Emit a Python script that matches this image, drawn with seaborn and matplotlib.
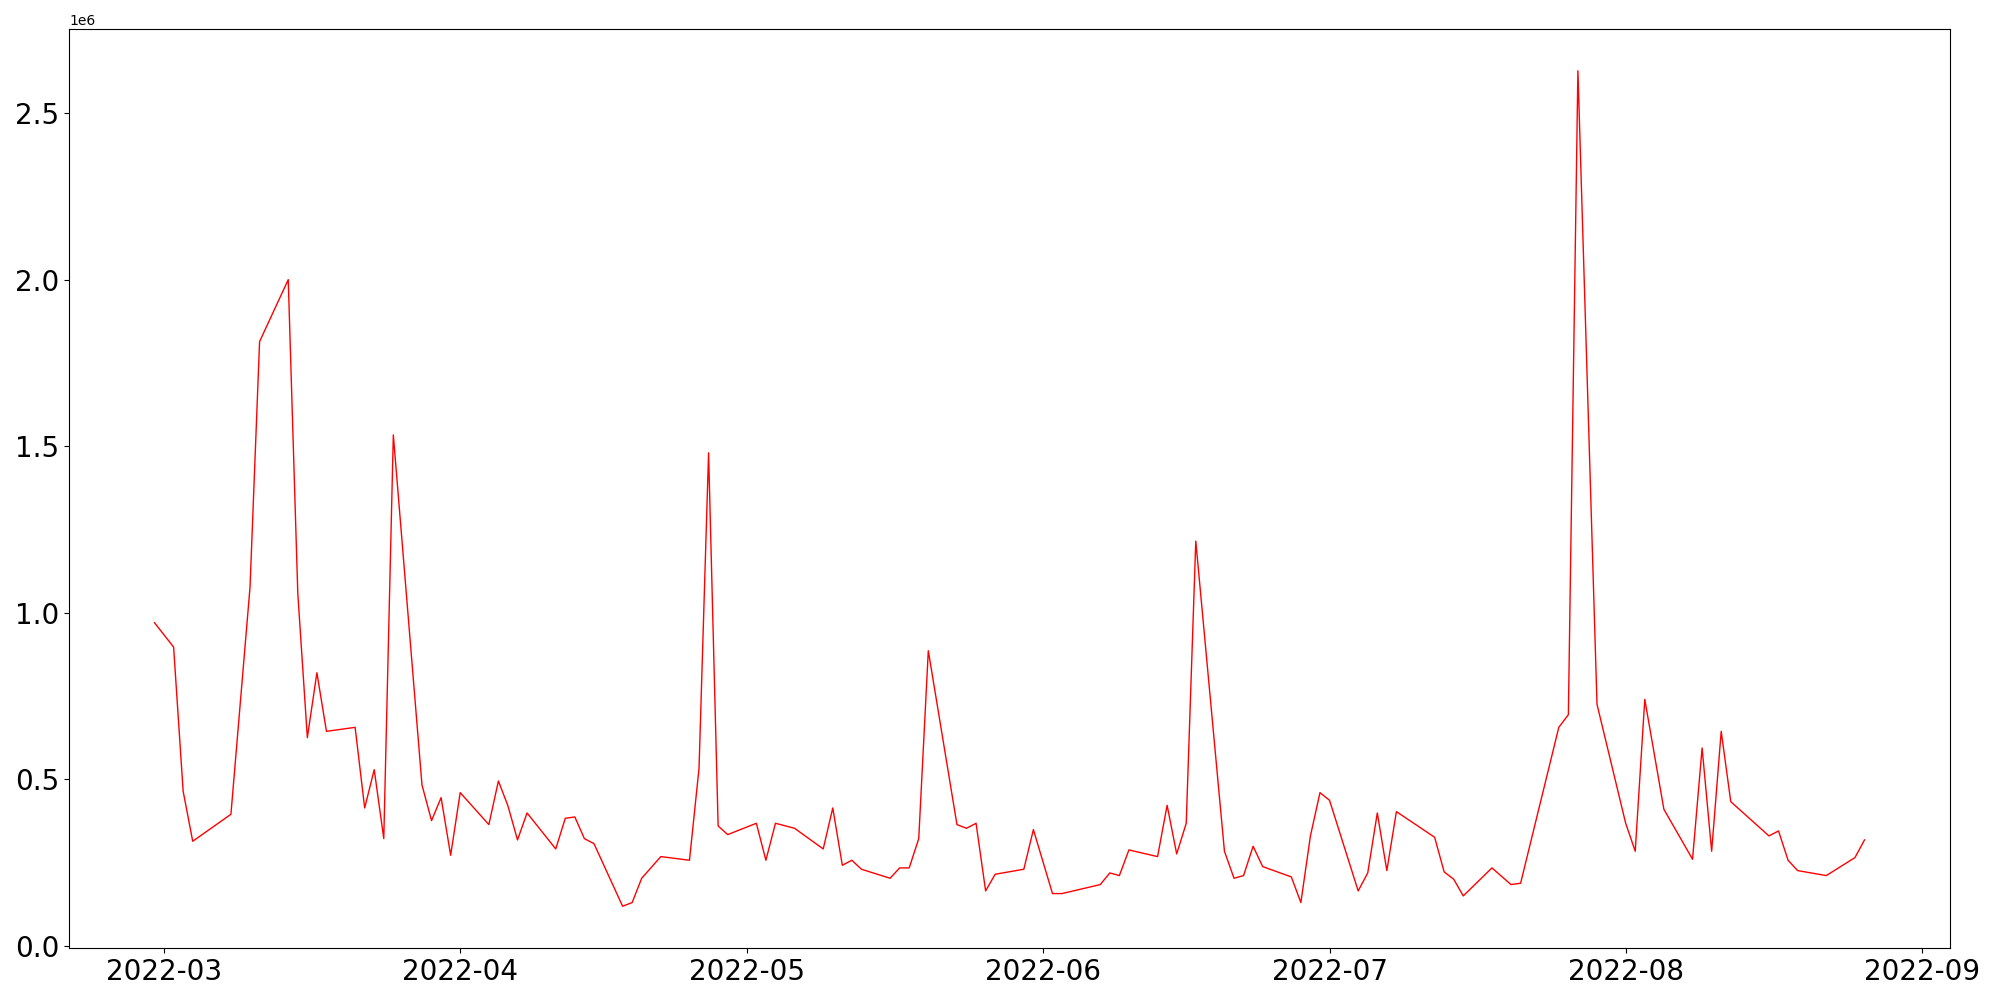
import pandas as pd
import matplotlib
matplotlib.use("Agg")
import matplotlib.pyplot as plt
import seaborn as sns

# daily values (units of 1e6 shown by the offset text)
dates = [
    "2022-02-28", "2022-03-02", "2022-03-03", "2022-03-04", "2022-03-08",
    "2022-03-10", "2022-03-11", "2022-03-14", "2022-03-15", "2022-03-16",
    "2022-03-17", "2022-03-18", "2022-03-21", "2022-03-22", "2022-03-23",
    "2022-03-24", "2022-03-25", "2022-03-28", "2022-03-29", "2022-03-30",
    "2022-03-31", "2022-04-01", "2022-04-04", "2022-04-05", "2022-04-06",
    "2022-04-07", "2022-04-08", "2022-04-11", "2022-04-12", "2022-04-13",
    "2022-04-14", "2022-04-15", "2022-04-18", "2022-04-19", "2022-04-20",
    "2022-04-22", "2022-04-25", "2022-04-26", "2022-04-27", "2022-04-28",
    "2022-04-29", "2022-05-02", "2022-05-03", "2022-05-04", "2022-05-06",
    "2022-05-09", "2022-05-10", "2022-05-11", "2022-05-12", "2022-05-13",
    "2022-05-16", "2022-05-17", "2022-05-18", "2022-05-19", "2022-05-20",
    "2022-05-23", "2022-05-24", "2022-05-25", "2022-05-26", "2022-05-27",
    "2022-05-30", "2022-05-31", "2022-06-02", "2022-06-03", "2022-06-07",
    "2022-06-08", "2022-06-09", "2022-06-10", "2022-06-13", "2022-06-14",
    "2022-06-15", "2022-06-16", "2022-06-17", "2022-06-20", "2022-06-21",
    "2022-06-22", "2022-06-23", "2022-06-24", "2022-06-27", "2022-06-28",
    "2022-06-29", "2022-06-30", "2022-07-01", "2022-07-04", "2022-07-05",
    "2022-07-06", "2022-07-07", "2022-07-08", "2022-07-12", "2022-07-13",
    "2022-07-14", "2022-07-15", "2022-07-18", "2022-07-20", "2022-07-21",
    "2022-07-25", "2022-07-26", "2022-07-27", "2022-07-29", "2022-08-01",
    "2022-08-02", "2022-08-03", "2022-08-05", "2022-08-08", "2022-08-09",
    "2022-08-10", "2022-08-11", "2022-08-12", "2022-08-16", "2022-08-17",
    "2022-08-18", "2022-08-19", "2022-08-22", "2022-08-25", "2022-08-26",
]

values = [
    970000, 897000, 464000, 314000, 395000,
    1077000, 1814000, 2000000, 1058000, 625000,
    820000, 644000, 656000, 414000, 529000,
    322000, 1534000, 483000, 376000, 445000,
    272000, 460000, 364000, 495000, 420000,
    318000, 399000, 291000, 383000, 387000,
    322000, 307000, 119000, 130000, 203000,
    268000, 257000, 533000, 1480000, 360000,
    334000, 368000, 257000, 368000, 353000,
    291000, 414000, 242000, 257000, 230000,
    203000, 234000, 234000, 322000, 886000,
    364000, 353000, 368000, 165000, 215000,
    230000, 349000, 157000, 157000, 184000,
    219000, 211000, 288000, 268000, 422000,
    276000, 368000, 1215000, 284000, 203000,
    211000, 299000, 238000, 207000, 130000,
    330000, 460000, 437000, 165000, 219000,
    399000, 226000, 403000, 326000, 222000,
    200000, 150000, 234000, 184000, 188000,
    656000, 694000, 2627000, 725000, 368000,
    284000, 740000, 410000, 260000, 594000,
    284000, 644000, 433000, 330000, 345000,
    257000, 226000, 211000, 265000, 318000,
]

df = pd.DataFrame({"date": pd.to_datetime(dates), "value": values})

fig, ax = plt.subplots(figsize=(20, 10), dpi=100)
sns.lineplot(data=df, x="date", y="value", color="red", linewidth=1.0, ax=ax)

ax.set_xlabel("")
ax.set_ylabel("")
ax.tick_params(axis="both", labelsize=20)

plt.subplots_adjust(left=0.0345, right=0.975, top=0.971, bottom=0.052)
plt.savefig("out.png", dpi=100)
plt.close()
